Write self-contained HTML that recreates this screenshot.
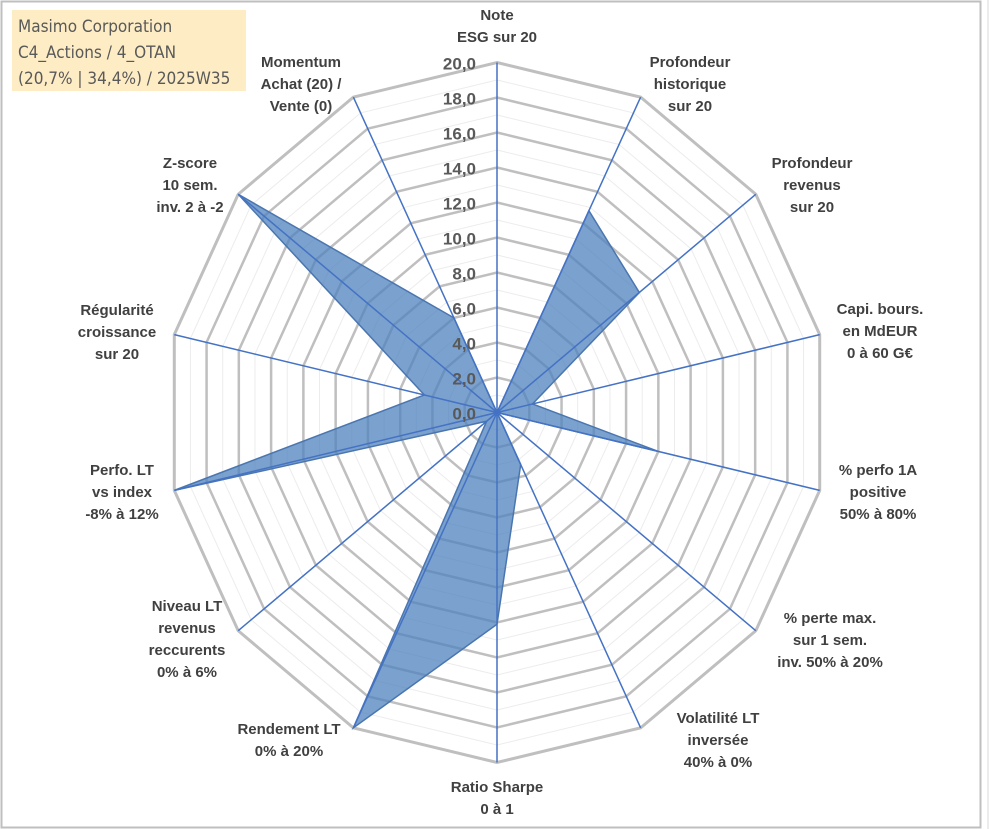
<!DOCTYPE html>
<html><head><meta charset="utf-8"><style>
body{margin:0;background:#fff;}
svg{display:block;font-family:"Liberation Sans",Arial,sans-serif;}
</style></head><body>
<svg id="chart" width="991" height="829" viewBox="0 0 991 829">
<rect x="1.5" y="1.5" width="979" height="826" fill="#fff" stroke="#bfbfbf" stroke-width="2"/>
<line x1="988" y1="0" x2="988" y2="829" stroke="#d9d9d9" stroke-width="1"/>
<g id="grid"></g><g id="series"></g><g id="axes"></g><g id="ticks"></g><g id="cats"></g>
<g>
<rect x="12" y="10" width="234" height="81" fill="#fdecc4"/>
<text x="18" y="32" font-size="17" fill="#595959" font-family="'DejaVu Sans Condensed','Liberation Sans Narrow','Liberation Sans',sans-serif">Masimo Corporation</text>
<text x="18" y="58" font-size="17" fill="#595959" font-family="'DejaVu Sans Condensed','Liberation Sans Narrow','Liberation Sans',sans-serif">C4_Actions / 4_OTAN</text>
<text x="18" y="84" font-size="17" fill="#595959" font-family="'DejaVu Sans Condensed','Liberation Sans Narrow','Liberation Sans',sans-serif">(20,7% | 34,4%) / 2025W35</text>
</g>
</svg>
<script>
const categories=[["Note","ESG sur 20"],["Profondeur","historique","sur 20"],["Profondeur","revenus","sur 20"],["Capi. bours.","en MdEUR","0 à 60 G€"],["% perfo 1A","positive","50% à 80%"],["% perte max.","sur 1 sem.","inv. 50% à 20%"],["Volatilité LT","inversée","40% à 0%"],["Ratio Sharpe","0 à 1"],["Rendement LT","0% à 20%"],["Niveau LT","revenus","reccurents","0% à 6%"],["Perfo. LT","vs index","-8% à 12%"],["Régularité","croissance","sur 20"],["Z-score","10 sem.","inv. 2 à -2"],["Momentum","Achat (20) /","Vente (0)"]];
const values=[0,12.8,11,2.2,10,0,3.3,12.1,20,0.8,20,4.5,20,6];
const tickLabels=["0,0","2,0","4,0","6,0","8,0","10,0","12,0","14,0","16,0","18,0","20,0"];
const labelPos=[[497,15],[690,62],[812,163],[880,309],[878,470],[830,618],[718,718],[497,787],[289,729],[187,606],[122,470],[117,310],[190,163],[301,62]];
const NS="http://www.w3.org/2000/svg",cx=497,cy=412.5,rx=331,ry=350,maxV=20,N=categories.length;
function pt(i,v){const a=i*2*Math.PI/N;return [cx+Math.sin(a)*rx*v/maxV,cy-Math.cos(a)*ry*v/maxV];}
function mk(t,attrs,parent){const e=document.createElementNS(NS,t);for(const k in attrs)e.setAttribute(k,attrs[k]);document.getElementById(parent).appendChild(e);return e;}
for(let v=1;v<=maxV;v++){const major=v%2===0;const p=[];for(let i=0;i<N;i++)p.push(pt(i,v).join(","));
const g=mk("polygon",{points:p.join(" "),fill:"none",stroke:major?"#bfbfbf":"#ececec","stroke-width":major?(v===maxV?3:2.5):1},"grid");

}
const sp=values.map((v,i)=>pt(i,v).join(",")).join(" ");
const s=mk("polygon",{points:sp,fill:"#4f81bd","fill-opacity":"0.75",stroke:"#4a76b0","stroke-width":1.5},"series");


for(let i=0;i<N;i++){const e=pt(i,maxV);const l=mk("line",{x1:cx,y1:cy,x2:e[0],y2:e[1],stroke:"#4472c4","stroke-width":1.5},"axes");

}
tickLabels.forEach((t,k)=>{const y=cy-ry*(k*2)/maxV;const tx=mk("text",{x:476,y:y+7,"text-anchor":"end","font-size":17,"font-weight":"bold",fill:"#595959"},"ticks");tx.textContent=t;

});
categories.forEach((lines,i)=>{const [x,y]=labelPos[i];const t=mk("text",{"text-anchor":"middle","font-size":15,"font-weight":"bold",fill:"#404040"},"cats");


lines.forEach((ln,j)=>{const ts=document.createElementNS(NS,"tspan");ts.setAttribute("x",x);ts.setAttribute("y",y+j*22+5);ts.textContent=ln;t.appendChild(ts);});});
</script>
</body></html>
